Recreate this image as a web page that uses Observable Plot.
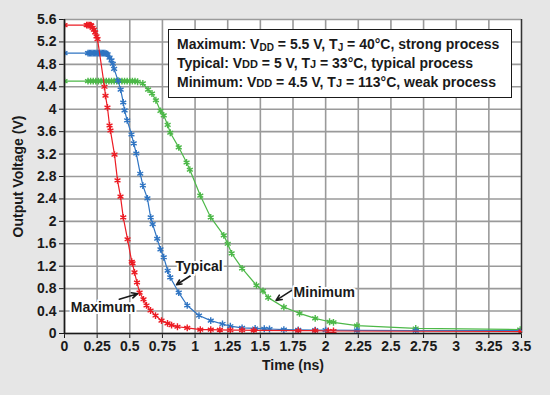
<!DOCTYPE html>
<html>
<head>
<meta charset="utf-8">
<script src="https://cdn.jsdelivr.net/npm/d3@7"></script>
<script src="https://cdn.jsdelivr.net/npm/@observablehq/plot@0.6"></script>
<style>
  html, body { margin: 0; padding: 0; background: #ffffff; }
  #wrap { position: relative; width: 550px; height: 395px; background: #e6e6e6; overflow: hidden; }
  #chart svg text { font-size: 14px !important; font-weight: bold; }
  #legend {
    position: absolute; left: 168px; top: 29px; width: 344px; height: 69px;
    background: #fff; border: 1.5px solid #1a1a1a;
    font-family: "Liberation Sans", Arial, sans-serif; font-weight: bold; font-size: 14px;
    color: #1a1a1a; padding: 5px 0 0 8px; box-sizing: border-box;
    white-space: nowrap;
  }
  #legend div { height: 19px; line-height: 19px; }
  #legend .sub { font-size: 10px; vertical-align: -2px; line-height: 0; }
  #legend .sm { font-size: 11px; }
</style>
</head>
<body>
<div id="wrap"><div id="chart"></div><div id="legend"></div></div>
<script>
// ---- data ----
const maxT = [0, 0.17, 0.18, 0.19, 0.2, 0.205, 0.215, 0.225, 0.235, 0.245, 0.253, 0.306, 0.314, 0.329, 0.345, 0.352, 0.383, 0.406, 0.429, 0.45, 0.483, 0.515, 0.521, 0.536, 0.555, 0.575, 0.605, 0.628, 0.659, 0.697, 0.743, 0.789, 0.82, 0.865, 0.94, 1.04, 1.12, 1.19, 1.27, 1.36, 1.45, 1.79, 1.92, 2.02, 2.06, 3.5];
const maxV = [5.5, 5.5, 5.5, 5.5, 5.5, 5.49, 5.45, 5.42, 5.37, 5.3, 5.25, 4.4, 4.24, 4.03, 3.71, 3.62, 3.19, 2.73, 2.44, 2.07, 1.68, 1.28, 1.25, 1.09, 0.91, 0.73, 0.61, 0.5, 0.41, 0.32, 0.23, 0.18, 0.15, 0.12, 0.1, 0.07, 0.07, 0.065, 0.06, 0.06, 0.055, 0.05, 0.05, 0.045, 0.045, 0.035];

const typT = [0, 0.18, 0.19, 0.2, 0.21, 0.22, 0.23, 0.24, 0.25, 0.26, 0.27, 0.28, 0.29, 0.3, 0.31, 0.32, 0.33, 0.345, 0.36, 0.37, 0.38, 0.41, 0.43, 0.45, 0.46, 0.48, 0.513, 0.53, 0.55, 0.58, 0.6, 0.635, 0.66, 0.675, 0.71, 0.735, 0.76, 0.79, 0.81, 0.875, 0.94, 1.03, 1.12, 1.21, 1.27, 1.36, 1.46, 1.53, 1.57, 1.68, 1.79, 1.92, 2.0, 2.24, 2.69, 3.5];
const typV = [5.0, 5.0, 5.0, 5.0, 5.0, 5.0, 5.0, 5.0, 5.0, 5.0, 5.0, 5.0, 5.0, 5.0, 5.0, 4.99, 4.98, 4.92, 4.87, 4.81, 4.72, 4.51, 4.35, 4.12, 3.98, 3.8, 3.55, 3.39, 3.21, 2.85, 2.64, 2.41, 2.07, 1.95, 1.69, 1.5, 1.36, 1.12, 1.0, 0.73, 0.5, 0.32, 0.23, 0.17, 0.13, 0.1, 0.09, 0.085, 0.08, 0.07, 0.065, 0.06, 0.06, 0.055, 0.05, 0.05];

const minT = [0, 0.18, 0.2, 0.22, 0.24, 0.26, 0.28, 0.3, 0.32, 0.34, 0.36, 0.38, 0.4, 0.42, 0.44, 0.46, 0.48, 0.5, 0.52, 0.54, 0.56, 0.6, 0.64, 0.67, 0.7, 0.735, 0.76, 0.79, 0.81, 0.875, 0.935, 0.96, 1.04, 1.12, 1.22, 1.25, 1.28, 1.36, 1.47, 1.52, 1.56, 1.68, 1.8, 1.92, 2.03, 2.06, 2.24, 2.69, 3.49];
const minV = [4.5, 4.5, 4.5, 4.5, 4.5, 4.5, 4.5, 4.5, 4.5, 4.5, 4.5, 4.5, 4.5, 4.5, 4.5, 4.5, 4.5, 4.5, 4.5, 4.5, 4.49, 4.46, 4.35, 4.28, 4.16, 3.97, 3.89, 3.72, 3.58, 3.32, 3.05, 2.92, 2.46, 2.07, 1.75, 1.6, 1.43, 1.16, 0.86, 0.76, 0.64, 0.47, 0.36, 0.27, 0.21, 0.2, 0.14, 0.09, 0.07];

const seriesNames = ["Maximum", "Typical", "Minimum"];
const seriesColors = ["#ec1c24", "#2f74c2", "#4cb848"];

const xTicks = [0, 0.25, 0.5, 0.75, 1, 1.25, 1.5, 1.75, 2, 2.25, 2.5, 2.75, 3, 3.25, 3.5];
const yTicks = [0, 0.4, 0.8, 1.2, 1.6, 2, 2.4, 2.8, 3.2, 3.6, 4, 4.4, 4.8, 5.2, 5.6];
const xTitle = "Time (ns)";
const yTitle = "Output Voltage (V)";

// annotations: label position and arrow (data units)
const annLabels = ["Maximum", "Typical", "Minimum"];
const annTextT = [0.295, 1.03, 1.99];
const annTextV = [0.46, 1.19, 0.73];
const arrowT1 = [0.42, 0.965, 1.74];
const arrowV1 = [0.61, 1.03, 0.77];
const arrowT2 = [0.56, 0.858, 1.62];
const arrowV2 = [0.71, 0.87, 0.59];

const legendLines = [
  'Maximum: V<span class="sub">DD</span> = 5.5 V, T<span class="sub">J</span> = 40°C, strong process',
  'Typical: V<span class="sm">DD</span> = 5 V, T<span class="sm">J</span> = 33°C, typical process',
  'Minimum: V<span class="sm">DD</span> = 4.5 V, T<span class="sm">J</span> = 113°C, weak process'
];

// ---- build tables ----
const mk = (T, V) => T.map((t, i) => ({t, v: V[i]}));
const series = [mk(maxT, maxV), mk(typT, typV), mk(minT, minV)];
const ann = annLabels.map((l, i) => ({l, t: annTextT[i], v: annTextV[i], t1: arrowT1[i], v1: arrowV1[i], t2: arrowT2[i], v2: arrowV2[i]}));

const lineMarks = [];
for (const i of [2, 1, 0]) {
  lineMarks.push(Plot.line(series[i], {x: "t", y: "v", stroke: seriesColors[i], strokeWidth: 1.2}));
  lineMarks.push(Plot.dot(series[i], {x: "t", y: "v", symbol: "asterisk", r: 3.2, stroke: seriesColors[i], strokeWidth: 1.4, clip: true}));
}

const chart = Plot.plot({
  width: 550,
  height: 395,
  marginLeft: 64,
  marginRight: 29,
  marginTop: 19,
  marginBottom: 62,
  style: {background: "transparent", fontFamily: "Liberation Sans, Arial, sans-serif", fontWeight: "bold", fontSize: "14px", color: "#1a1a1a", overflow: "visible"},
  x: {domain: [0, 3.5], ticks: xTicks, tickFormat: d => String(d), tickSize: 5, tickPadding: 3, label: null},
  y: {domain: [0, 5.6], ticks: yTicks, tickFormat: d => String(d), tickSize: 5, tickPadding: 3, label: null},
  marks: [
    Plot.frame({fill: "white", stroke: "none"}),
    Plot.ruleX(xTicks, {stroke: "#9a9a9a", strokeWidth: 1.6}),
    Plot.ruleY(yTicks, {stroke: "#9a9a9a", strokeWidth: 1.6}),
    Plot.ruleX([3.5], {stroke: "#333", strokeWidth: 1.3}),
    ...lineMarks,
    Plot.ruleY([0], {stroke: "#1a1a1a", strokeWidth: 1.6}),
    Plot.ruleX([0], {stroke: "#1a1a1a", strokeWidth: 1.6}),
    Plot.arrow(ann, {x1: "t1", y1: "v1", x2: "t2", y2: "v2", stroke: "#1a1a1a", strokeWidth: 1.6, headLength: 8, headAngle: 50}),
    Plot.text(ann, {x: "t", y: "v", text: "l", fill: "#1a1a1a", stroke: "white", strokeWidth: 4, fontSize: 14, fontWeight: "bold"}),
    Plot.text([xTitle], {frameAnchor: "bottom", textAnchor: "middle", dy: 36, fontSize: 14, fontWeight: "bold", fill: "#1a1a1a"}),
    Plot.text([yTitle], {frameAnchor: "left", textAnchor: "middle", dx: -46, rotate: -90, fontSize: 14, fontWeight: "bold", fill: "#1a1a1a"})
  ]
});
document.getElementById("chart").appendChild(chart);
document.getElementById("legend").innerHTML = legendLines.map(s => `<div>${s}</div>`).join("");
</script>
</body>
</html>
